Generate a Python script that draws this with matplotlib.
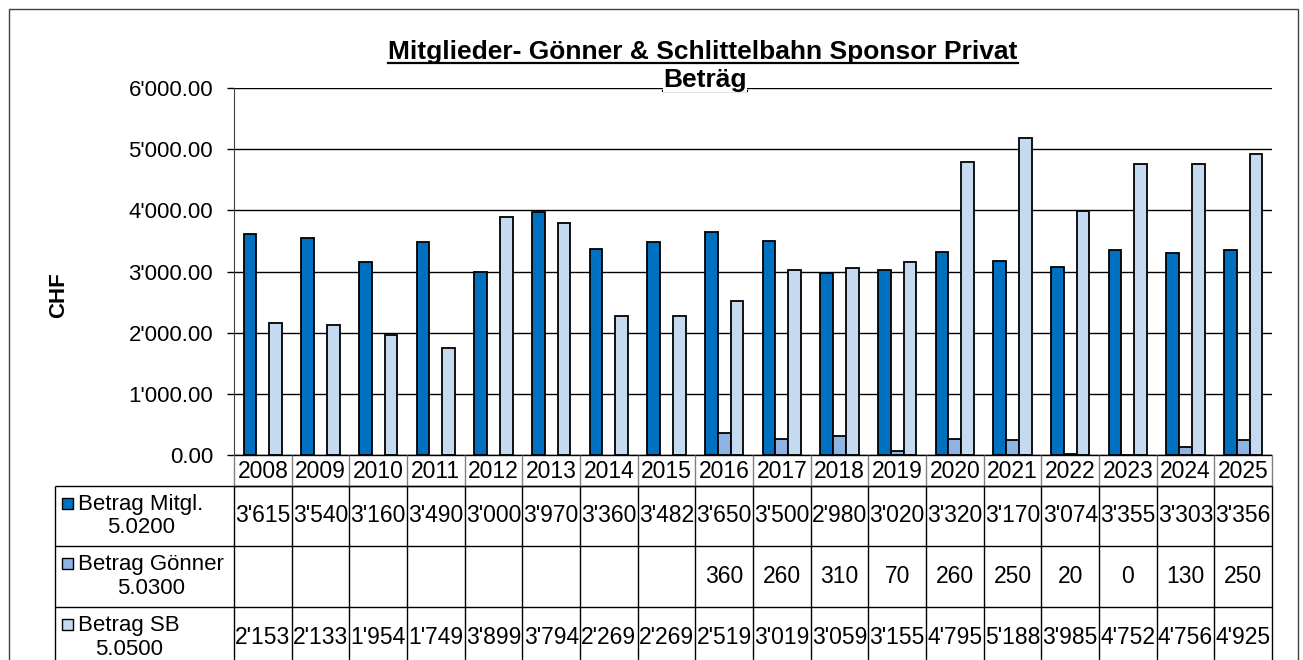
import numpy as np
import matplotlib.pyplot as plt
from matplotlib.patches import Rectangle
from matplotlib.lines import Line2D

plt.rcParams['font.family'] = ['Liberation Sans', 'DejaVu Sans']

years = [str(y) for y in range(2008, 2026)]
mitgl = [3615, 3540, 3160, 3490, 3000, 3970, 3360, 3482, 3650,
         3500, 2980, 3020, 3320, 3170, 3074, 3355, 3303, 3356]
goenner = [None] * 8 + [360, 260, 310, 70, 260, 250, 20, 0, 130, 250]
sb = [2153, 2133, 1954, 1749, 3899, 3794, 2269, 2269, 2519,
      3019, 3059, 3155, 4795, 5188, 3985, 4752, 4756, 4925]
series_names = ["Betrag Mitgl.\n5.0200", "Betrag Gönner\n5.0300", "Betrag SB\n5.0500"]
colors = ["#0070C0", "#8DB4E2", "#C5D9F1"]
title_lines = ["Mitglieder- Gönner & Schlittelbahn Sponsor Privat", "Beträg"]
y_label = "CHF"
yticks = np.arange(0, 6001, 1000)

W, H = 1303, 660
fig = plt.figure(figsize=(W / 100, H / 100), dpi=100)


def fx(px):
    return px / W


def fy(py):
    return 1 - py / H


def fmt(v):
    return f"{v:,}".replace(",", "'")


# plot area in pixels
x_left, x_right, y_top, y_bot = 234, 1272, 88, 455
ax = fig.add_axes([fx(x_left), fy(y_bot), fx(x_right - x_left), (y_bot - y_top) / H])
n = len(years)
x = np.arange(n)
w = 0.22
values = [mitgl, goenner, sb]
for i, (vals, c) in enumerate(zip(values, colors)):
    v = np.array([np.nan if a is None else a for a in vals], dtype=float)
    ax.bar(x + (i - 1) * w, v, width=w, color=c, edgecolor='black', linewidth=1.3)
ax.set_xlim(-0.5, n - 0.5)
ax.set_ylim(0, 6000)
ax.set_yticks(yticks)
ax.set_yticklabels([f"{v:,.2f}".replace(",", "'") for v in yticks], fontsize=16)
ax.tick_params(axis='y', length=5, width=1, pad=10)
ax.set_xticks([])
ax.set_axisbelow(True)
ax.yaxis.grid(True, color='black', linewidth=1)
for s in ['top', 'right', 'bottom']:
    ax.spines[s].set_visible(False)
ax.spines['left'].set_color('#404040')

fig.text(fx(59), fy(295), y_label, rotation=90, fontweight='bold', fontsize=16,
         ha='center', va='center')

# data table below the chart
col_w = (x_right - x_left) / n
tab_left = 55
lab_w = (x_left - tab_left) / col_w
tab = fig.add_axes([fx(tab_left), 0, fx(x_right - tab_left), fy(y_bot)])
x0 = -0.5 - lab_w
tab.set_xlim(x0, n - 0.5)
tab.set_ylim(H, y_bot)
tab.axis('off')


def ux(px):
    return x0 + (px - tab_left) / col_w


year_row = (455, 486)
rows = [486, 546, 607, 668]
lk = dict(color='black', linewidth=1, clip_on=False)

# year row
tab.hlines(year_row, -0.5, n - 0.5, **lk)
tab.vlines(np.arange(n + 1) - 0.5, year_row[0], year_row[1], color='#808080',
           linewidth=1, clip_on=False)
for i, yr in enumerate(years):
    tab.text(i, sum(year_row) / 2 + 1, yr, ha='center', va='center', fontsize=16.5)

# data rows
tab.hlines(rows[:-1], x0, n - 0.5, **lk)
tab.vlines(np.concatenate([[x0], np.arange(n + 1) - 0.5]), rows[0], rows[-1], **lk)
for r, (name, vals, c) in enumerate(zip(series_names, values, colors)):
    yc = (rows[r] + rows[r + 1]) / 2
    tab.add_patch(Rectangle((ux(62), yc - 18), ux(73) - ux(62), 11,
                            facecolor=c, edgecolor='black', linewidth=1, clip_on=False))
    tab.text(ux(78), yc, name, ha='left', va='center', multialignment='center',
             fontsize=16, linespacing=1.15, clip_on=False)
    for i, v in enumerate(vals):
        if v is None:
            continue
        tab.text(i, yc, fmt(v), ha='center', va='center', fontsize=16.5, clip_on=False)

# title with underline
t1 = fig.text(fx(703), fy(59), title_lines[0], fontweight='bold', fontsize=19,
              ha='center', va='baseline')
t2 = fig.text(fx(705), fy(87), title_lines[1], fontweight='bold', fontsize=19,
              ha='center', va='baseline',
              bbox=dict(facecolor='white', edgecolor='none', pad=0))
fig.canvas.draw()
for t, ybase in zip((t1, t2), (59, 87)):
    bb = t.get_window_extent()
    yline = fy(ybase + 4)
    fig.add_artist(Line2D([bb.x0 / W, bb.x1 / W], [yline, yline], color='black',
                          linewidth=1.6, transform=fig.transFigure))

# outer frame
fig.add_artist(Rectangle((fx(9), -0.1), fx(1298 - 9), 1.1 - 9 / H, fill=False,
                         edgecolor='#404040', linewidth=1, transform=fig.transFigure))

fig.savefig('out.png', dpi=100)
